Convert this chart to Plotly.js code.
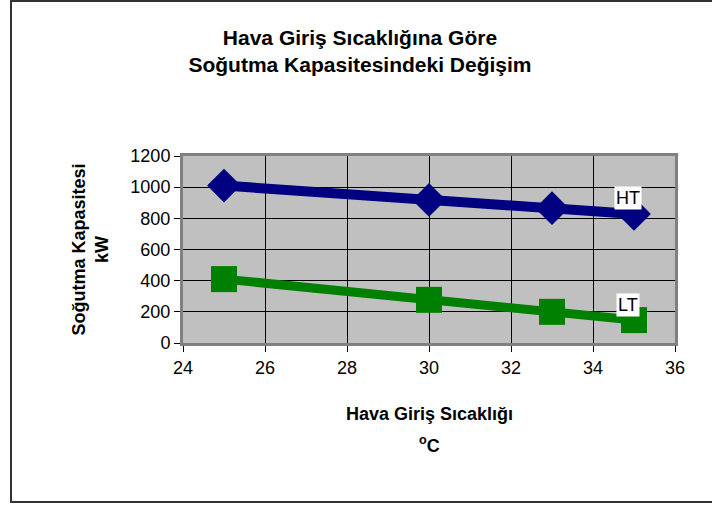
<!DOCTYPE html>
<html>
<head>
<meta charset="utf-8">
<script src="https://cdn.plot.ly/plotly-3.0.1.min.js"></script>
<style>
html,body{margin:0;padding:0;background:#fff;overflow:hidden;}
#chart{width:712px;height:505px;}
#frame{position:absolute;left:10px;top:0px;width:720px;height:503px;border:2px solid #333;border-right:none;pointer-events:none;box-sizing:border-box;}
</style>
</head>
<body>
<div id="chart"></div>
<div id="frame"></div>
<script>
const temps = [25, 30, 33, 35];
const htValues = [1010, 918, 865, 828];
const ltValues = [410, 277, 200, 147];
const seriesNames = ['HT', 'LT'];
const titleText = 'Hava Giriş Sıcaklığına Göre<br>Soğutma Kapasitesindeki Değişim';
const yTitleText = 'Soğutma Kapasitesi<br>kW';
const xTitleLine1 = 'Hava Giriş Sıcaklığı';
const xTitleLine2 = '<sup>o</sup>C';

const font = 'Liberation Sans, Arial, sans-serif';
const W = 712, H = 505, ML = 183, MR = 37, MT = 156, MB = 162;
const PW = W - ML - MR, PH = H - MT - MB;
const px2x = p => (p - ML) / PW;
const py2y = p => (MT + PH - p) / PH;

const traces = [
  {x: temps, y: htValues, name: seriesNames[0], mode: 'lines+markers', type: 'scatter',
   line: {color: '#000080', width: 10}, marker: {symbol: 'diamond', size: 26, color: '#000080'}},
  {x: temps, y: ltValues, name: seriesNames[1], mode: 'lines+markers', type: 'scatter',
   line: {color: '#008000', width: 9}, marker: {symbol: 'square', size: 26, color: '#008000'}}
];

const layout = {
  width: W, height: H,
  margin: {l: ML, r: MR, t: MT, b: MB},
  paper_bgcolor: '#ffffff',
  plot_bgcolor: '#C0C0C0',
  showlegend: false,
  font: {family: font, size: 18, color: '#000'},
  title: {text: titleText, xref: 'container', x: 360 / W, xanchor: 'center',
          yref: 'container', y: 1 - 44.5 / H, yanchor: 'middle',
          font: {family: font, size: 21, color: '#000', weight: 'bold'}},
  xaxis: {range: [24, 36], dtick: 2, tick0: 24, showgrid: true, gridcolor: '#000', gridwidth: 1,
          zeroline: false, showline: true, linecolor: '#808080', linewidth: 3, mirror: true,
          ticks: 'outside', ticklen: 6, tickcolor: '#000', tickwidth: 1,
          tickfont: {family: font, size: 18, color: '#000'}},
  yaxis: {range: [0, 1200], dtick: 200, tick0: 0, showgrid: true, gridcolor: '#000', gridwidth: 1,
          zeroline: false, showline: true, linecolor: '#808080', linewidth: 3, mirror: true,
          ticks: 'outside', ticklen: 6, tickcolor: '#000', tickwidth: 1,
          tickfont: {family: font, size: 18, color: '#000'}},
  annotations: [
    {x: 34.85, y: 928, xref: 'x', yref: 'y', text: seriesNames[0], showarrow: false,
     bgcolor: '#ffffff', font: {family: font, size: 18, color: '#000'}, borderpad: 1},
    {x: 34.85, y: 245, xref: 'x', yref: 'y', text: seriesNames[1], showarrow: false,
     bgcolor: '#ffffff', font: {family: font, size: 18, color: '#000'}, borderpad: 1},
    {x: 0.5, y: py2y(414), xref: 'paper', yref: 'paper', xanchor: 'center', yanchor: 'middle',
     text: xTitleLine1, showarrow: false,
     font: {family: font, size: 18, color: '#000', weight: 'bold'}},
    {x: 0.5, y: py2y(444), xref: 'paper', yref: 'paper', xanchor: 'center', yanchor: 'middle',
     text: xTitleLine2, showarrow: false,
     font: {family: font, size: 18, color: '#000', weight: 'bold'}},
    {x: px2x(90), y: 0.5, xref: 'paper', yref: 'paper', xanchor: 'center', yanchor: 'middle',
     text: yTitleText, textangle: -90, showarrow: false,
     font: {family: font, size: 18, color: '#000', weight: 'bold'}}
  ]
};

Plotly.newPlot('chart', traces, layout, {displayModeBar: false, staticPlot: true});
</script>
</body>
</html>
